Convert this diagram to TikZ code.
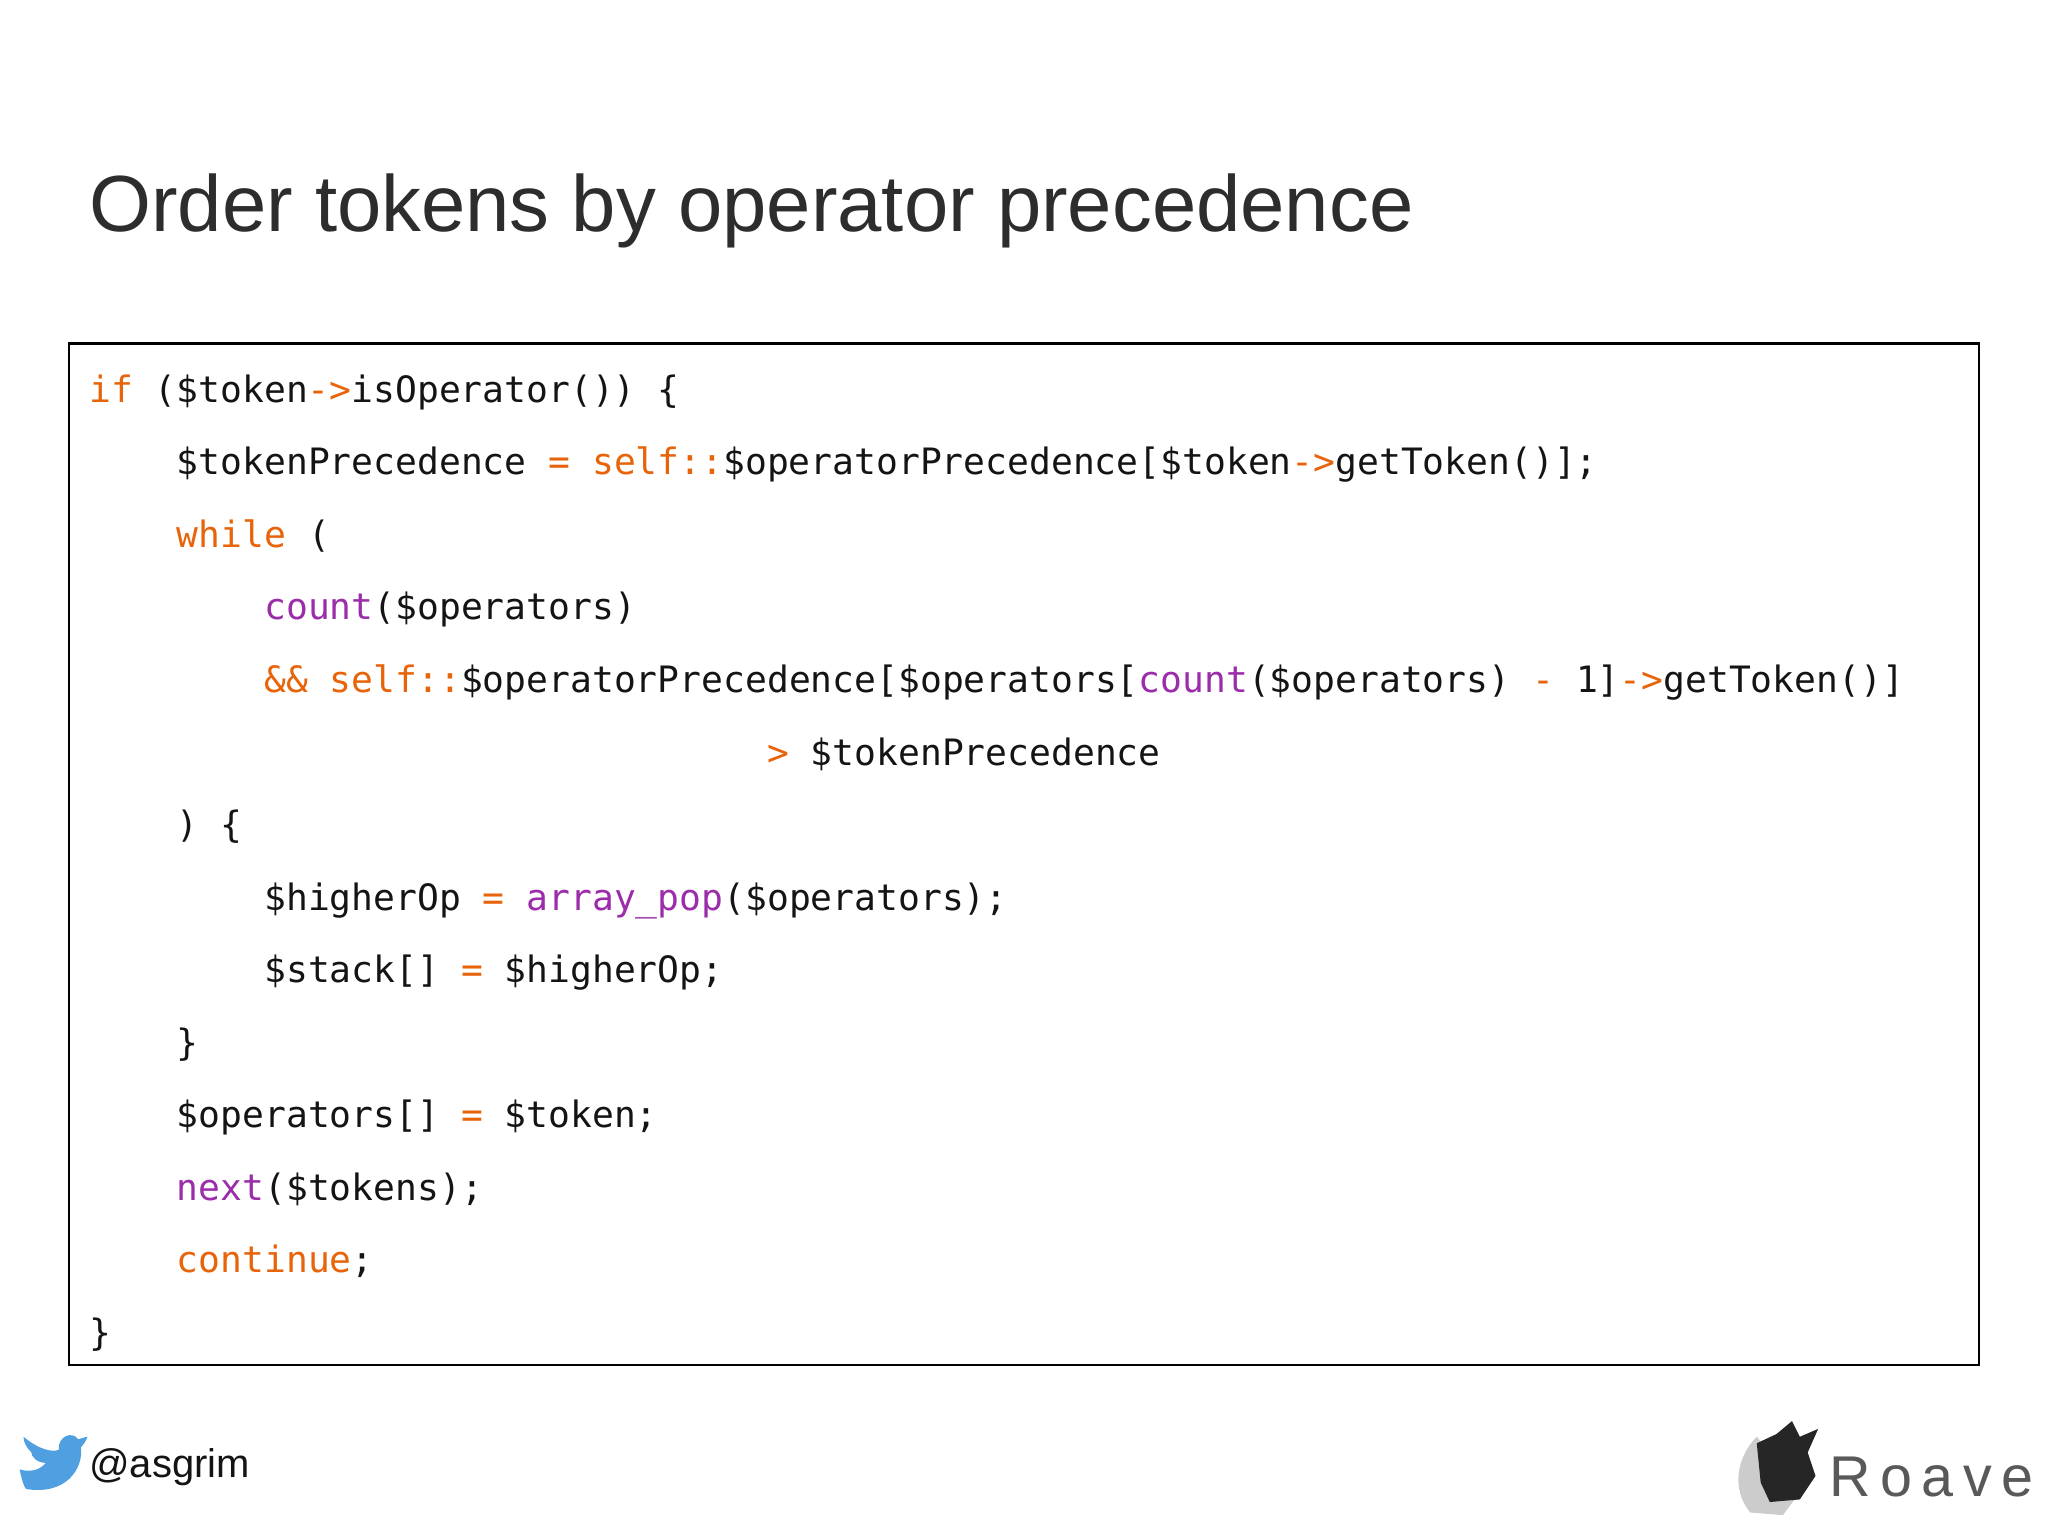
\documentclass[tikz,border=0pt]{standalone}
\usepackage{fontspec}
\setmainfont{Liberation Sans}
\setmonofont{DejaVu Sans Mono}
\definecolor{kw}{RGB}{232,100,10}
\definecolor{fn}{RGB}{155,45,170}
\definecolor{tx}{RGB}{20,20,20}
\definecolor{ttl}{RGB}{45,45,45}
\definecolor{tw}{RGB}{80,160,225}
\newcommand{\K}[1]{\textcolor{kw}{#1}}
\newcommand{\F}[1]{\textcolor{fn}{#1}}
\begin{document}
\begin{tikzpicture}[x=0.5bp,y=-0.5bp,
  cl/.style={anchor=base west,inner sep=0,text=tx,font=\ttfamily\fontsize{13.9bp}{16bp}\selectfont}]
\useasboundingbox (0,0) rectangle (1568,1176);
\fill[white] (0,0) rectangle (1568,1176);
\node[anchor=base west,inner sep=0,text=ttl,font=\fontsize{30.5bp}{36bp}\selectfont] (title) at (68,177) {Order tokens by operator precedence};
\draw[line width=0.8bp] (53,263) rectangle (1515,1045);
\node[cl] (l1) at (68,308) {\K{if} (\$token\K{->}isOperator()) \{};
\node[cl] (l2) at (135,363) {\$tokenPrecedence \K{=} \K{self::}\$operatorPrecedence[\$token\K{->}getToken()];};
\node[cl] (l3) at (135,419) {\K{while} (};
\node[cl] (l4) at (202,474) {\F{count}(\$operators)};
\node[cl] (l5) at (202,530) {\K{\&\& self::}\$operatorPrecedence[\$operators[\F{count}(\$operators) \K{-} 1]\K{->}getToken()]};
\node[cl] (l6) at (587,586) {\K{>} \$tokenPrecedence};
\node[cl] (l7) at (135,641) {) \{};
\node[cl] (l8) at (202,697) {\$higherOp \K{=} \F{array\_pop}(\$operators);};
\node[cl] (l9) at (202,752) {\$stack[] \K{=} \$higherOp;};
\node[cl] (l10) at (135,808) {\}};
\node[cl] (l11) at (135,863) {\$operators[] \K{=} \$token;};
\node[cl] (l12) at (135,919) {\F{next}(\$tokens);};
\node[cl] (l13) at (135,974) {\K{continue};};
\node[cl] (l14) at (68,1030) {\}};
% twitter bird
\fill[tw] (15,1125) .. controls (25,1128) and (32,1124) .. (35,1120)
  .. controls (28,1120) and (24,1115) .. (24,1112)
  .. controls (20,1108) and (18,1104) .. (18,1100)
  .. controls (30,1110) and (40,1112) .. (45,1110)
  .. controls (44,1100) and (55,1095) .. (60,1102)
  .. controls (63,1101) and (66,1100) .. (67,1100)
  .. controls (66,1103) and (64,1106) .. (62,1108)
  .. controls (64,1125) and (50,1145) .. (20,1140)
  .. controls (18,1138) and (16,1130) .. (15,1125) -- cycle;
\node[anchor=base west,inner sep=0,text=tx,font=\fontsize{15.3bp}{19bp}\selectfont] (handle) at (68,1131) {@asgrim};
% Roave logo
\fill[gray!40] (1345,1100) .. controls (1330,1115) and (1325,1140) .. (1340,1158) -- (1365,1160) -- (1380,1140) -- cycle;
\fill[black!85] (1345,1105) -- (1360,1098) -- (1372,1088) -- (1378,1100) -- (1392,1094) -- (1384,1112) -- (1390,1130) -- (1378,1148) -- (1355,1150) -- (1348,1135) -- cycle;
\node[anchor=base west,inner sep=0,text=black!65,font=\fontsize{22bp}{26bp}\selectfont] (roave) at (1400,1146) {R\,o\,a\,v\,e};
\end{tikzpicture}
\end{document}
